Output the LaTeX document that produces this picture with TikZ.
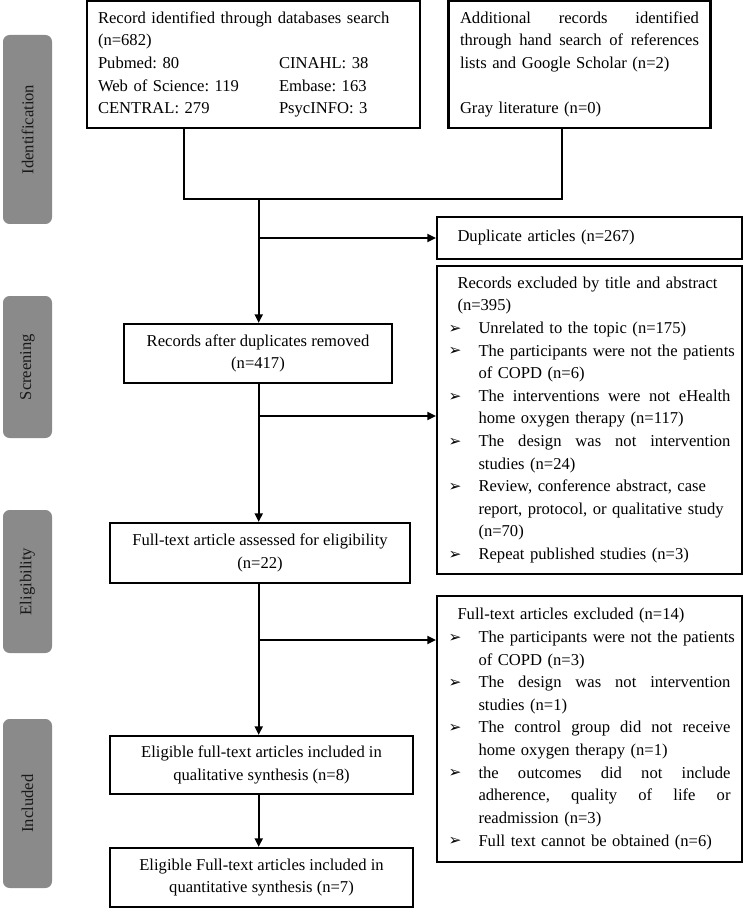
\documentclass[tikz,border=0pt]{standalone}
\usepackage{fontspec}
\setmainfont{Liberation Serif}
\newfontfamily\dejavu{DejaVu Sans}
\usetikzlibrary{arrows.meta,calc}
\definecolor{sidegray}{HTML}{8A8A8A}
\newcommand{\bl}[1]{\makebox[22.5pt][l]{\hspace*{0pt}\raisebox{0.2pt}{\dejavu\fontsize{11.5}{11.5}\selectfont ➢}}\mbox{#1}}
\newcommand{\ct}[1]{\hspace*{22.5pt}\mbox{#1}}
\newcommand{\hd}[1]{\hspace*{6.75pt}\mbox{#1}}
\tikzset{
  box/.style={draw, line width=1.6pt, rectangle, inner sep=0pt,
    font=\fontsize{12.45pt}{16.95pt}\selectfont\frenchspacing},
  leftbox/.style={box, align=left},
  ctrbox/.style={box, align=center},
  side/.style={fill=sidegray, draw=none, rounded corners=5pt, rotate=90,
    minimum height=36.75pt, inner sep=0pt, text=black!90,
    font=\fontsize{12.45pt}{14pt}\selectfont},
  conn/.style={line width=1.5pt},
  arr/.style={line width=1.5pt, -{Triangle[length=6.5pt,width=6pt]}}
}
\begin{document}
\begin{tikzpicture}[x=0.75pt,y=-0.75pt]
\useasboundingbox (0,0) rectangle (744,909);

% side labels
\node[side, minimum width=141.75pt] (sid) at (27.5,129.5) {Identification};
\node[side, minimum width=106.5pt] (sscr) at (27.5,367) {Screening};
\node[side, minimum width=107.25pt] (selig) at (27.5,581.5) {Eligibility};
\node[side, minimum width=126.75pt] (sinc) at (27.5,803.5) {Included};

% top boxes
\node[leftbox, minimum width=249.75pt, minimum height=95.25pt, text width=233.25pt] (tl) at (253.5,64.5)
{\mbox{Record identified through databases search}\\
(n=682)\\
\makebox[135.75pt][l]{Pubmed: 80}CINAHL: 38\\
\makebox[135.75pt][l]{Web of Science: 119}Embase: 163\\
\makebox[135.75pt][l]{CENTRAL: 279}PsycINFO: 3};

\node[leftbox, minimum width=196.5pt, minimum height=95.25pt, text width=179.25pt] (tr) at (579.5,64.5)
{\makebox[179.25pt][s]{Additional\hfill records\hfill identified}\\
\makebox[179.25pt][s]{through\hfill hand\hfill search\hfill of\hfill references}\\
\mbox{lists and Google Scholar (n=2)}\\
\mbox{}\\
Gray literature (n=0)};

% right column
\node[leftbox, minimum width=228.75pt, minimum height=31.5pt, text width=211.5pt] (dup) at (589.5,238)
{\hd{Duplicate articles (n=267)}};

\node[leftbox, minimum width=228.75pt, minimum height=231pt, text width=211.5pt] (rex) at (589.5,420)
{\hd{Records excluded by title and abstract}\\
\hd{(n=395)}\\
\bl{Unrelated to the topic (n=175)}\\
\bl{The participants were not the patients}\\
\ct{of COPD (n=6)}\\
\bl{\makebox[189pt][s]{The\hfill interventions\hfill were\hfill not\hfill eHealth}}\\
\ct{home oxygen therapy (n=117)}\\
\bl{\makebox[189pt][s]{The\hfill design\hfill was\hfill not\hfill intervention}}\\
\ct{studies (n=24)}\\
\bl{Review, conference abstract, case}\\
\ct{report, protocol, or qualitative study}\\
\ct{(n=70)}\\
\bl{Repeat published studies (n=3)}};

\node[leftbox, minimum width=228.75pt, minimum height=199.5pt, text width=211.5pt] (fex) at (589.5,729)
{\hd{Full-text articles excluded (n=14)}\\
\bl{The participants were not the patients}\\
\ct{of COPD (n=3)}\\
\bl{\makebox[189pt][s]{The\hfill design\hfill was\hfill not\hfill intervention}}\\
\ct{studies (n=1)}\\
\bl{\makebox[189pt][s]{The\hfill control\hfill group\hfill did\hfill not\hfill receive}}\\
\ct{home oxygen therapy (n=1)}\\
\bl{\makebox[189pt][s]{the\hfill outcomes\hfill did\hfill not\hfill include}}\\
\ct{\makebox[189pt][s]{adherence,\hfill quality\hfill of\hfill life\hfill or}}\\
\ct{readmission (n=3)}\\
\bl{Full text cannot be obtained (n=6)}};

% main column
\node[ctrbox, minimum width=201pt, minimum height=44.25pt] (rad) at (258,353.5)
{Records after duplicates removed\\(n=417)};
\node[ctrbox, minimum width=225pt, minimum height=45pt] (fta) at (260,553)
{Full-text article assessed for eligibility\\(n=22)};
\node[ctrbox, minimum width=227.25pt, minimum height=43.5pt] (qual) at (261.5,765)
{Eligible full-text articles included in\\qualitative synthesis (n=8)};
\node[ctrbox, minimum width=227.25pt, minimum height=44.25pt] (quan) at (261.5,877.5)
{Eligible Full-text articles included in\\quantitative synthesis (n=7)};

% connectors
\coordinate (j1) at (183.7,199);
\coordinate (j2) at (561.5,199);
\coordinate (jm) at (258.7,199);
\coordinate (b2) at (258.7,416);
\coordinate (b3) at (258.7,640);
\draw[conn] (tl.south -| j1) -- (j1) -- (j2) -- (tr.south -| j2);
\draw[arr] (jm) -- (jm |- rad.north);
\draw[arr] (jm |- dup.west) -- (dup.west);
\draw[arr] (jm |- rad.south) -- (jm |- fta.north);
\draw[arr] (b2) -- (b2 -| rex.west);
\draw[arr] (b3) -- (b3 -| fex.west);
\draw[arr] (jm |- fta.south) -- (jm |- qual.north);
\draw[arr] (jm |- qual.south) -- (jm |- quan.north);
\end{tikzpicture}
\end{document}
